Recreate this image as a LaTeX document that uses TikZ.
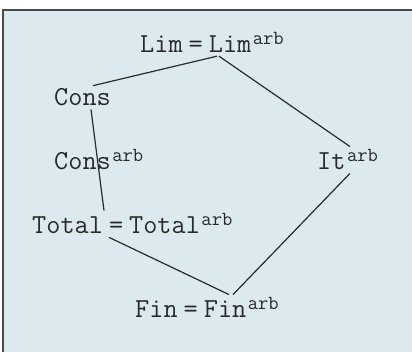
\documentclass[tikz,border=0pt]{standalone}
\usepackage{tikz}

\definecolor{paneblue}{HTML}{DCEAF0}
\definecolor{inkgray}{HTML}{2A2A2A}
\newcommand{\arb}{\kern1.5pt\raisebox{8pt}{\fontsize{20}{20}\selectfont arb}}
\newcommand{\eqs}{\kern6pt=\kern6pt}

\begin{document}
\begin{tikzpicture}[x=1pt, y=-1pt, font=\ttfamily\fontsize{27.5}{32}\selectfont,
  lbl/.style={anchor=base west, inner sep=3pt, text=inkgray},
  link/.style={draw=inkgray, line width=1.2pt}]

\useasboundingbox (0,0) rectangle (412,352);
\fill [paneblue] (3,10) rectangle (412,352);
\draw [inkgray!85, line width=2pt] (3,352) -- (3,10) -- (412,10);

\node [lbl] (lim) at (137,53) {Lim\eqs Lim\arb};
\node [lbl] (cons) at (51,106) {Cons};
\node [lbl] (consarb) at (51,170) {Cons\arb};
\node [lbl] (it) at (314,170) {It\arb};
\node [lbl] (total) at (29,234) {Total\eqs Total\arb};
\node [lbl] (fin) at (132,318) {Fin\eqs Fin\arb};

\path [link] ([xshift=80pt]lim.south west) -- ([xshift=42pt]cons.north west);
\path [link] ([xshift=82pt]lim.south west) -- ([xshift=36pt]it.north west);
\path [link] ([xshift=40pt]cons.south west) -- ([xshift=75pt]total.north west);
\path [link] ([xshift=80pt]total.south west) -- ([xshift=97pt]fin.north west);
\path [link] ([xshift=36pt]it.south west) -- ([xshift=101pt]fin.north west);

\end{tikzpicture}
\end{document}
